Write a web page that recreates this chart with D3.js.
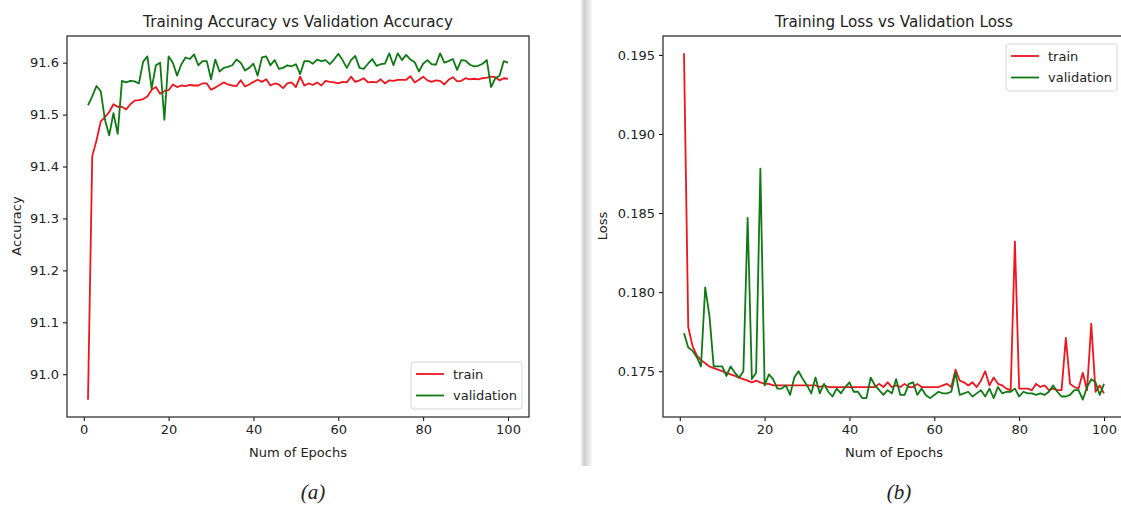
<!DOCTYPE html>
<html>
<head>
<meta charset="utf-8">
<script src="https://cdn.jsdelivr.net/npm/d3@7"></script>
<style>
  body { margin: 0; background: #fff; }
  svg { display: block; }
  text { font-family: "DejaVu Sans", sans-serif; fill: #222; }
</style>
</head>
<body>
<div id="vis"></div>
<script>
var width = 1121,
    height = 505;

var epochs = d3.range(1, 101);

var accTrain = [
  90.951, 91.420, 91.450, 91.487, 91.495, 91.505, 91.520, 91.515, 91.515, 91.510,
  91.520, 91.527, 91.528, 91.530, 91.535, 91.548, 91.553, 91.540, 91.545, 91.547,
  91.558, 91.553, 91.556, 91.555, 91.557, 91.556, 91.556, 91.560, 91.560, 91.548,
  91.552, 91.557, 91.562, 91.558, 91.556, 91.555, 91.566, 91.554, 91.558, 91.563,
  91.567, 91.563, 91.568, 91.556, 91.560, 91.558, 91.551, 91.560, 91.562, 91.553,
  91.573, 91.556, 91.560, 91.557, 91.562, 91.556, 91.565, 91.563, 91.562, 91.560,
  91.563, 91.562, 91.573, 91.563, 91.566, 91.570, 91.562, 91.563, 91.562, 91.568,
  91.560, 91.566, 91.565, 91.567, 91.567, 91.567, 91.574, 91.562, 91.567, 91.573,
  91.566, 91.563, 91.566, 91.565, 91.558, 91.567, 91.572, 91.564, 91.565, 91.570,
  91.568, 91.569, 91.568, 91.570, 91.571, 91.573, 91.572, 91.566, 91.570, 91.569
];

var accVal = [
  91.518, 91.535, 91.555, 91.545, 91.490, 91.460, 91.503, 91.463, 91.565, 91.562,
  91.565, 91.564, 91.560, 91.602, 91.612, 91.550, 91.595, 91.600, 91.490, 91.612,
  91.600, 91.575, 91.597, 91.610, 91.607, 91.616, 91.595, 91.603, 91.603, 91.568,
  91.606, 91.583, 91.590, 91.592, 91.595, 91.606, 91.600, 91.585, 91.590, 91.598,
  91.575, 91.610, 91.612, 91.595, 91.605, 91.588, 91.590, 91.595, 91.593, 91.597,
  91.578, 91.603, 91.603, 91.598, 91.606, 91.603, 91.605, 91.597, 91.606, 91.617,
  91.605, 91.590, 91.605, 91.613, 91.590, 91.588, 91.598, 91.607, 91.594, 91.597,
  91.598, 91.618, 91.595, 91.618, 91.605, 91.615, 91.606, 91.601, 91.583, 91.598,
  91.605, 91.597, 91.596, 91.618, 91.600, 91.603, 91.607, 91.586, 91.605, 91.604,
  91.596, 91.593, 91.594, 91.598, 91.605, 91.553, 91.570, 91.575, 91.603, 91.600
];

var lossTrain = [
  0.1951, 0.1778, 0.1766, 0.1760, 0.1757, 0.1755, 0.1753, 0.1752, 0.1751, 0.1750,
  0.1749, 0.1748, 0.1747, 0.1746, 0.1745, 0.1744, 0.1743, 0.1744, 0.1743, 0.1742,
  0.1742, 0.1741, 0.1741, 0.1741, 0.1741, 0.1741, 0.1741, 0.1741, 0.1741, 0.1741,
  0.1741, 0.1741, 0.1740, 0.1741, 0.1740, 0.1740, 0.1740, 0.1740, 0.1740, 0.1740,
  0.1740, 0.1740, 0.1740, 0.1740, 0.1740, 0.1740, 0.1742, 0.1740, 0.1743, 0.1740,
  0.1741, 0.1740, 0.1742, 0.1740, 0.1740, 0.1742, 0.1740, 0.1740, 0.1740, 0.1740,
  0.1740, 0.1741, 0.1742, 0.1740, 0.1751, 0.1744, 0.1743, 0.1741, 0.1743, 0.1740,
  0.1744, 0.1750, 0.1741, 0.1746, 0.1742, 0.1741, 0.1739, 0.1738, 0.1832, 0.1739,
  0.1739, 0.1739, 0.1738, 0.1742, 0.1740, 0.1741, 0.1738, 0.1739, 0.1738, 0.1738,
  0.1771, 0.1742, 0.1740, 0.1739, 0.1749, 0.1738, 0.1780, 0.1737, 0.1741, 0.1736
];

var lossVal = [
  0.1774, 0.1765, 0.1763, 0.1759, 0.1753, 0.1803, 0.1785, 0.1753, 0.1753, 0.1753,
  0.1747, 0.1753, 0.1749, 0.1746, 0.1750, 0.1847, 0.1745, 0.1749, 0.1878, 0.1741,
  0.1748, 0.1745, 0.1739, 0.1739, 0.1741, 0.1735, 0.1746, 0.1750, 0.1745, 0.1741,
  0.1736, 0.1746, 0.1736, 0.1742, 0.1737, 0.1734, 0.1739, 0.1736, 0.1740, 0.1743,
  0.1737, 0.1737, 0.1733, 0.1733, 0.1746, 0.1741, 0.1738, 0.1735, 0.1738, 0.1736,
  0.1745, 0.1735, 0.1735, 0.1742, 0.1743, 0.1735, 0.1739, 0.1735, 0.1733, 0.1735,
  0.1737, 0.1736, 0.1736, 0.1737, 0.1749, 0.1735, 0.1736, 0.1737, 0.1734, 0.1736,
  0.1738, 0.1734, 0.1739, 0.1733, 0.1740, 0.1736, 0.1737, 0.1737, 0.1739, 0.1734,
  0.1737, 0.1736, 0.1736, 0.1735, 0.1736, 0.1735, 0.1737, 0.1741, 0.1737, 0.1734,
  0.1734, 0.1735, 0.1738, 0.1738, 0.1732, 0.1740, 0.1745, 0.1743, 0.1735, 0.1742
];

var xTicks = [0, 20, 40, 60, 80, 100];
var accTicks = [91.0, 91.1, 91.2, 91.3, 91.4, 91.5, 91.6];
var lossTicks = [0.175, 0.180, 0.185, 0.190, 0.195];
var seriesNames = ["train", "validation"];
var seriesColors = ["#f0141c", "#0f7a14"];

var svg = d3.select("#vis").append("svg")
    .attr("width", width)
    .attr("height", height);

// page-fold shadow between the two panels
var grad = svg.append("defs").append("linearGradient")
    .attr("id", "fold")
    .attr("x1", "0%").attr("x2", "100%");
grad.append("stop").attr("offset", "0%").attr("stop-color", "#ffffff");
grad.append("stop").attr("offset", "35%").attr("stop-color", "#cdcdcd");
grad.append("stop").attr("offset", "100%").attr("stop-color", "#f6f6f6");
svg.append("rect")
    .attr("x", 580).attr("y", 0)
    .attr("width", 12).attr("height", 466)
    .attr("fill", "url(#fold)");

function panel(opt) {
    var x = d3.scaleLinear()
        .domain([-3.95, 104.95])
        .range([opt.left, opt.left + 462]);

    var lo = d3.min(opt.series.map(s => d3.min(s))),
        hi = d3.max(opt.series.map(s => d3.max(s))),
        pad = (hi - lo) * 0.05;
    var y = d3.scaleLinear()
        .domain([lo - pad, hi + pad])
        .range([417, 36]);

    var g = svg.append("g");

    g.append("g")
        .attr("transform", "translate(0,417)")
        .call(d3.axisBottom(x).tickValues(xTicks).tickSize(4).tickPadding(4).tickFormat(d3.format("d")))
        .call(a => a.select(".domain").remove())
        .call(a => a.selectAll("text").attr("font-size", 13).attr("font-family", "DejaVu Sans").attr("fill", "#222"));

    g.append("g")
        .attr("transform", "translate(" + opt.left + ",0)")
        .call(d3.axisLeft(y).tickValues(opt.yTicks).tickSize(4).tickPadding(4).tickFormat(d3.format(opt.fmt)))
        .call(a => a.select(".domain").remove())
        .call(a => a.selectAll("text").attr("font-size", 13).attr("font-family", "DejaVu Sans").attr("fill", "#222"));

    var line = d3.line()
        .x((d, i) => x(epochs[i]))
        .y(d => y(d));

    g.append("g")
        .selectAll("path")
        .data(opt.series)
        .join("path")
        .attr("fill", "none")
        .attr("stroke", (d, i) => seriesColors[i])
        .attr("stroke-width", 1.8)
        .attr("stroke-linejoin", "round")
        .attr("d", line);

    g.append("rect")
        .attr("x", opt.left).attr("y", 36)
        .attr("width", 462).attr("height", 381)
        .attr("fill", "none")
        .attr("stroke", "#333")
        .attr("stroke-width", 1.3);

    g.append("text")
        .attr("x", opt.left + 231).attr("y", 27)
        .attr("text-anchor", "middle")
        .attr("font-size", 15.2)
        .text(opt.title);

    g.append("text")
        .attr("x", opt.left + 231).attr("y", 457)
        .attr("text-anchor", "middle")
        .attr("font-size", 13)
        .text("Num of Epochs");

    g.append("text")
        .attr("transform", "translate(" + opt.yLabelX + ",226) rotate(-90)")
        .attr("text-anchor", "middle")
        .attr("font-size", 13)
        .text(opt.yLabel);

    var lg = g.append("g")
        .attr("transform", "translate(" + opt.legend[0] + "," + opt.legend[1] + ")");
    lg.append("rect")
        .attr("width", 111).attr("height", 47)
        .attr("rx", 3)
        .attr("fill", "#fff").attr("fill-opacity", 0.85)
        .attr("stroke", "#d6d6d6");
    var item = lg.selectAll("g.item")
        .data(seriesNames)
        .join("g")
        .attr("class", "item")
        .attr("transform", (d, i) => "translate(0," + (12 + i * 21.5) + ")");
    item.append("line")
        .attr("x1", 5).attr("x2", 33)
        .attr("stroke", (d, i) => seriesColors[i])
        .attr("stroke-width", 1.8);
    item.append("text")
        .attr("x", 42).attr("dy", "0.35em")
        .attr("font-size", 13)
        .text(d => d);

    svg.append("text")
        .attr("x", opt.caption).attr("y", 499)
        .attr("text-anchor", "middle")
        .style("font-family", "'Liberation Serif', serif")
        .style("font-style", "italic")
        .attr("font-size", 21)
        .text(opt.captionText);
}

panel({
    left: 67,
    series: [accTrain, accVal],
    yTicks: accTicks,
    fmt: ".1f",
    title: "Training Accuracy vs Validation Accuracy",
    yLabel: "Accuracy",
    yLabelX: 21,
    legend: [411, 362],
    caption: 313,
    captionText: "(a)"
});

panel({
    left: 663,
    series: [lossTrain, lossVal],
    yTicks: lossTicks,
    fmt: ".3f",
    title: "Training Loss vs Validation Loss",
    yLabel: "Loss",
    yLabelX: 607,
    legend: [1006, 44],
    caption: 899,
    captionText: "(b)"
});
</script>
</body>
</html>
